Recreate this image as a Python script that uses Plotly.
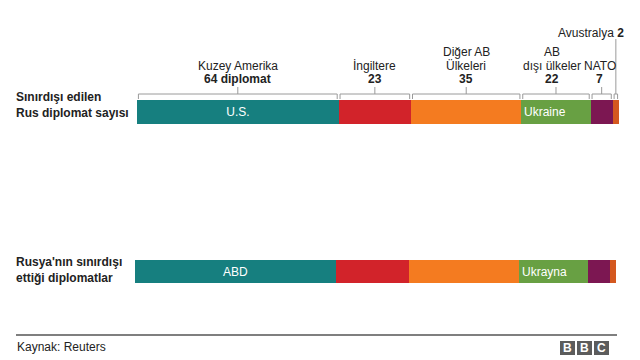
import plotly.graph_objects as go

# ---- data ----
groups = ["Kuzey Amerika", "İngiltere", "Diğer AB Ülkeleri", "AB dışı ülkeler", "NATO", "Avustralya"]
values = [64, 23, 35, 22, 7, 2]
group_label_lines = [["Kuzey Amerika"], ["İngiltere"], ["Diğer AB", "Ülkeleri"], ["AB", "dışı ülkeler"], ["NATO"], ["Avustralya"]]
value_labels = ["64 diplomat", "23", "35", "22", "7", "2"]
colors = ["#167f7f", "#d2232a", "#f47b20", "#68a043", "#7c1752", "#d4581f"]
row_labels = ["Sınırdışı edilen<br>Rus diplomat sayısı", "Rusya'nın sınırdışı<br>ettiği diplomatlar"]
inside_top = ["U.S.", "", "", "Ukraine", "", ""]
inside_bottom = ["ABD", "", "", "Ukrayna", "", ""]
source = "Kaynak: Reuters"

FONT = "Liberation Sans, Arial, Helvetica, sans-serif"
TXT = "#222222"
GRAY = "#9a9a9a"
W, H = 640, 360
OFF = 8  # page body margin


def fx(p):
    return (p - OFF) / W


def fy(p):
    return 1 - (p - OFF) / H


fig = go.Figure()
total = sum(values)

rows = [("x", "y", inside_top), ("x2", "y2", inside_bottom)]
for row, (xa, ya, inside) in enumerate(rows):
    for i, (g, v, c, t) in enumerate(zip(groups, values, colors, inside)):
        fig.add_trace(go.Bar(
            x=[v], y=[0], orientation="h", width=1,
            marker=dict(color=c, line=dict(width=0)),
            text=[t], textposition="inside", textangle=0,
            insidetextanchor="start" if i == 3 else "middle",
            insidetextfont=dict(color="white", size=12, family=FONT),
            hoverinfo="skip", showlegend=False, xaxis=xa, yaxis=ya,
        ))

shapes = []
annotations = []

# brackets over top bar
cum = 0
d = 0.45
y_line, y_end, y_tick = fy(94), fy(99), fy(87)
xshifts = [0, 0, 0, -4, -2, 0]
for i, v in enumerate(values):
    x0, x1 = cum + d, cum + v - d
    xc = cum + v / 2
    cum += v
    lc = dict(color=GRAY, width=1)
    shapes.append(dict(type="line", xref="x", yref="paper", x0=x0, x1=x1, y0=y_line, y1=y_line, line=lc))
    shapes.append(dict(type="line", xref="x", yref="paper", x0=x0, x1=x0, y0=y_line, y1=y_end, line=lc))
    shapes.append(dict(type="line", xref="x", yref="paper", x0=x1, x1=x1, y0=y_line, y1=y_end, line=lc))
    if i == len(values) - 1:
        shapes.append(dict(type="line", xref="x", yref="paper", x0=xc, x1=xc, y0=y_line, y1=fy(39), line=lc))
        annotations.append(dict(xref="x", yref="paper", x=total, y=fy(33), xanchor="right", yanchor="middle",
                                xshift=7, showarrow=False,
                                text=group_label_lines[i][0] + " <b>" + value_labels[i] + "</b>",
                                font=dict(size=12, color=TXT, family=FONT)))
        continue
    shapes.append(dict(type="line", xref="x", yref="paper", x0=xc, x1=xc, y0=y_line, y1=y_tick, line=lc))
    lines = group_label_lines[i]
    annotations.append(dict(xref="x", yref="paper", x=xc, y=fy(79.5), xanchor="center", yanchor="middle",
                            xshift=xshifts[i], showarrow=False, text="<b>" + value_labels[i] + "</b>",
                            font=dict(size=12, color=TXT, family=FONT)))
    for k, ln in enumerate(reversed(lines)):
        annotations.append(dict(xref="x", yref="paper", x=xc, y=fy(66 - 14 * k), xanchor="center",
                                yanchor="middle", xshift=xshifts[i], showarrow=False, text=ln,
                                font=dict(size=12, color=TXT, family=FONT)))

# row labels
for row, (lab, yc) in enumerate(zip(row_labels, [105.5, 269.5])):
    annotations.append(dict(xref="paper", yref="paper", x=fx(14), y=fy(yc), xanchor="left", yanchor="middle",
                            showarrow=False, align="left", text="<b>" + lab + "</b>",
                            font=dict(size=12, color=TXT, family=FONT)))

# footer
shapes.append(dict(type="line", xref="paper", yref="paper", x0=fx(16), x1=fx(617), y0=fy(335), y1=fy(335),
                   line=dict(color="#555555", width=1.5)))
annotations.append(dict(xref="paper", yref="paper", x=fx(15), y=fy(347), xanchor="left", yanchor="middle",
                        showarrow=False, text=source, font=dict(size=12, color=TXT, family=FONT)))
for j, letter in enumerate("BBC"):
    bx0 = 560 + j * 17
    shapes.append(dict(type="rect", xref="paper", yref="paper", x0=fx(bx0), x1=fx(bx0 + 15),
                       y0=fy(355), y1=fy(341), fillcolor="#5c5c5c", line=dict(width=0)))
    annotations.append(dict(xref="paper", yref="paper", x=fx(bx0 + 7.5), y=fy(348), xanchor="center",
                            yanchor="middle", showarrow=False, text="<b>" + letter + "</b>",
                            font=dict(size=12, color="white", family=FONT)))

axis_common = dict(showgrid=False, zeroline=False, showticklabels=False, showline=False, fixedrange=True)
fig.update_layout(
    width=W, height=H, margin=dict(l=0, r=0, t=0, b=0),
    paper_bgcolor="white", plot_bgcolor="white",
    barmode="stack", bargap=0,
    xaxis=dict(domain=[fx(137), fx(619)], range=[0, total], anchor="y", **axis_common),
    yaxis=dict(domain=[fy(124), fy(100)], range=[-0.5, 0.5], anchor="x", **axis_common),
    xaxis2=dict(domain=[fx(135), fx(616)], range=[0, total], anchor="y2", **axis_common),
    yaxis2=dict(domain=[fy(283), fy(260)], range=[-0.5, 0.5], anchor="x2", **axis_common),
    shapes=shapes, annotations=annotations,
    font=dict(family=FONT, color=TXT),
)

fig.write_html("out.html")
